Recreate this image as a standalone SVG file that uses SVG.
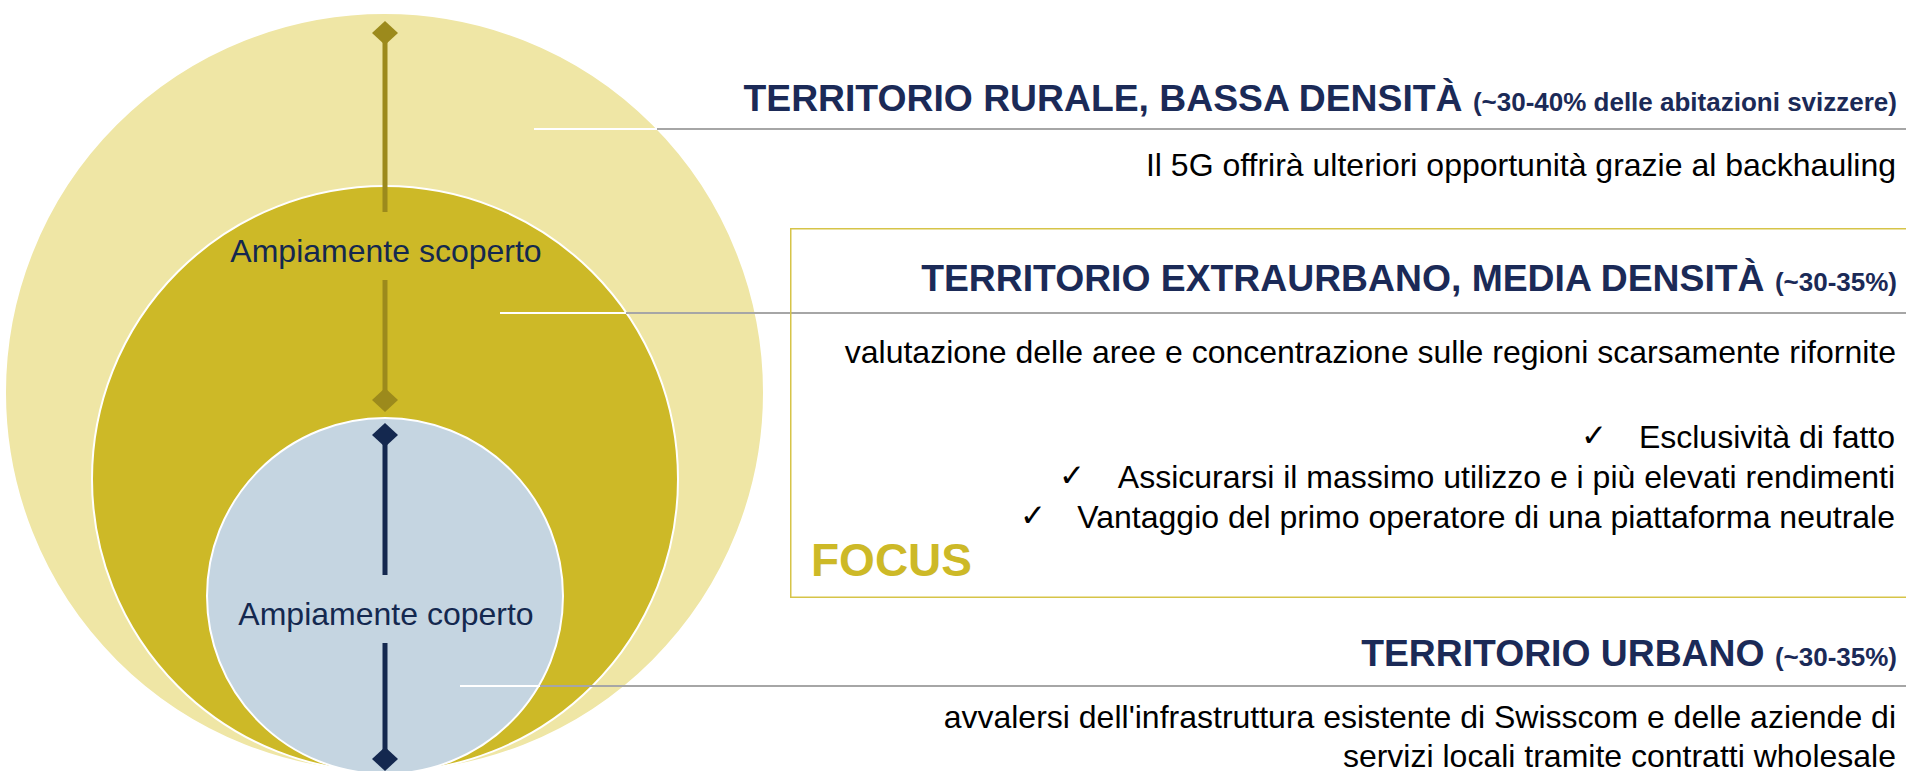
<svg xmlns="http://www.w3.org/2000/svg" width="1906" height="771" viewBox="0 0 1906 771">
  <style>
    .circ { stroke: #ffffff; stroke-width: 2; }
    .lbl { font-family: "Liberation Sans", Arial, sans-serif; font-size: 32px; fill: #14284F; text-anchor: middle; }
    .head { font-family: "Liberation Sans", Arial, sans-serif; font-size: 37.3px; font-weight: bold; fill: #1B2A57; text-anchor: end; }
    .small { font-size: 26px; }
    .body { font-family: "Liberation Sans", Arial, sans-serif; font-size: 32px; fill: #000000; text-anchor: end; }
    .chk { font-family: "DejaVu Sans", sans-serif; font-size: 31px; font-weight: bold; fill: #000000; }
    .focus { font-family: "Liberation Sans", Arial, sans-serif; font-size: 46px; font-weight: bold; fill: #CDB927; }
    .gray { stroke: #A6A6A6; stroke-width: 2; fill: none; }
    .white { stroke: #ffffff; stroke-width: 2; fill: none; }
    .olive { stroke: #9C8A1C; stroke-width: 5; fill: none; }
    .navy { stroke: #14284F; stroke-width: 5; fill: none; }
  </style>
  <defs>
    <marker id="dOlive" viewBox="-13 -13 26 26" markerWidth="26" markerHeight="26" refX="0" refY="0" markerUnits="userSpaceOnUse" orient="auto">
      <path d="M-12,0 L0,-13 L12,0 L0,13 Z" fill="#9C8A1C"/>
    </marker>
    <marker id="dNavy" viewBox="-13 -13 26 26" markerWidth="26" markerHeight="26" refX="0" refY="0" markerUnits="userSpaceOnUse" orient="auto">
      <path d="M-12,0 L0,-13 L12,0 L0,13 Z" fill="#14284F"/>
    </marker>
  </defs>
  <rect width="1906" height="771" fill="#ffffff"/>

  <g id="outer">
    <circle class="circ" cx="384.5" cy="392.5" r="379.5" fill="#EFE6A5" stroke="#E9EEF4"/>
  </g>
  <g id="middle">
    <circle class="circ" cx="385" cy="479" r="293" fill="#CDB927"/>
  </g>
  <g id="inner">
    <circle class="circ" cx="385" cy="596" r="178" fill="#C5D5E1"/>
  </g>

  <g id="connectors">
    <path class="olive" d="M385,33 V212" marker-start="url(#dOlive)"/>
    <path class="olive" d="M385,280 V400" marker-end="url(#dOlive)"/>
    <path class="navy" d="M385,435 V575" marker-start="url(#dNavy)"/>
    <path class="navy" d="M385,643 V759" marker-end="url(#dNavy)"/>
    <path class="white" d="M534,129 H657"/>
    <path class="gray" d="M657,129 H1906"/>
    <path class="white" d="M500,313 H626"/>
    <path class="gray" d="M626,313 H1906"/>
    <path class="white" d="M460,686 H540"/>
    <path class="gray" d="M540,686 H1906"/>
  </g>

  <g id="label-scoperto">
    <text class="lbl" x="386" y="262">Ampiamente scoperto</text>
  </g>
  <g id="label-coperto">
    <text class="lbl" x="386" y="625">Ampiamente coperto</text>
  </g>

  <g id="rurale">
    <text class="head" x="1897" y="111">TERRITORIO RURALE, BASSA DENSITÀ <tspan class="small">(~30-40% delle abitazioni svizzere)</tspan></text>
    <text class="body" x="1896" y="176">Il 5G offrirà ulteriori opportunità grazie al backhauling</text>
  </g>

  <g id="extraurbano">
    <rect x="790.75" y="228.75" width="1140" height="368.5" fill="none" stroke="#D6C448" stroke-width="1.5"/>
    <text class="head" x="1897" y="291">TERRITORIO EXTRAURBANO, MEDIA DENSITÀ <tspan class="small">(~30-35%)</tspan></text>
    <text class="body" x="1896" y="363">valutazione delle aree e concentrazione sulle regioni scarsamente rifornite</text>
    <text class="chk" x="1581" y="446">✓</text>
    <text class="body" x="1895" y="448">Esclusività di fatto</text>
    <text class="chk" x="1059" y="486">✓</text>
    <text class="body" x="1895" y="488">Assicurarsi il massimo utilizzo e i più elevati rendimenti</text>
    <text class="chk" x="1020" y="526">✓</text>
    <text class="body" x="1895" y="528">Vantaggio del primo operatore di una piattaforma neutrale</text>
    <text class="focus" x="811" y="576">FOCUS</text>
  </g>

  <g id="urbano">
    <text class="head" x="1897" y="666">TERRITORIO URBANO <tspan class="small">(~30-35%)</tspan></text>
    <text class="body" x="1896" y="728">avvalersi dell'infrastruttura esistente di Swisscom e delle aziende di</text>
    <text class="body" x="1896" y="767">servizi locali tramite contratti wholesale</text>
  </g>
</svg>
